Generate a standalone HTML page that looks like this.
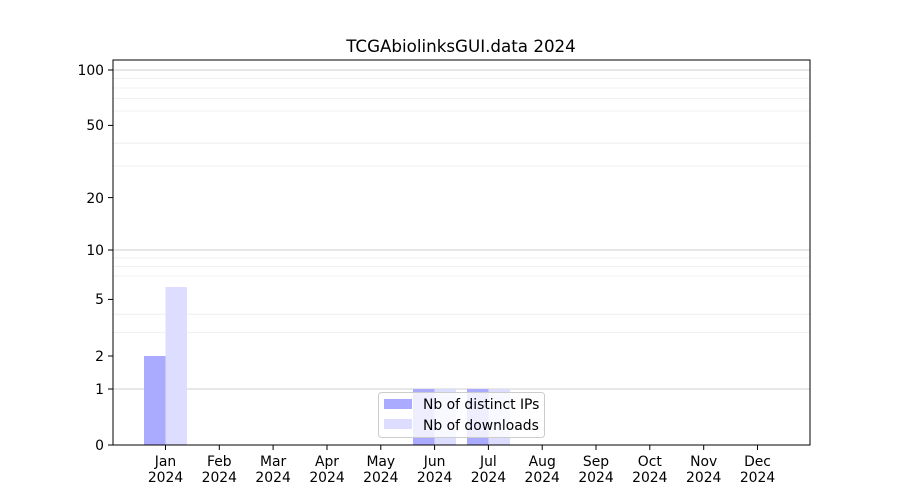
<!DOCTYPE html>
<html><head><meta charset="utf-8"><style>
html,body{margin:0;padding:0;background:#fff;}
svg{display:block;font-family:"DejaVu Sans","Liberation Sans",sans-serif;}
</style></head><body>
<svg width="900" height="500" viewBox="0 0 900 500" xmlns="http://www.w3.org/2000/svg">
<rect width="900" height="500" fill="#fff"/>
<g stroke="#ebebeb" stroke-width="0.8">
<line x1="113" x2="810" y1="332.4" y2="332.4"/>
<line x1="113" x2="810" y1="314.2" y2="314.2"/>
<line x1="113" x2="810" y1="276" y2="276"/>
<line x1="113" x2="810" y1="266.5" y2="266.5"/>
<line x1="113" x2="810" y1="257.9" y2="257.9"/>
<line x1="113" x2="810" y1="166" y2="166"/>
<line x1="113" x2="810" y1="143.2" y2="143.2"/>
<line x1="113" x2="810" y1="111" y2="111"/>
<line x1="113" x2="810" y1="98.6" y2="98.6"/>
<line x1="113" x2="810" y1="88" y2="88"/>
<line x1="113" x2="810" y1="78.4" y2="78.4"/>
</g>
<g stroke="#cfcfcf" stroke-width="1">
<line x1="113" x2="810" y1="389" y2="389"/>
<line x1="113" x2="810" y1="250" y2="250"/>
<line x1="113" x2="810" y1="70" y2="70"/>
</g>
<g>
<rect x="144" y="356" width="21.5" height="89" fill="#aaaaff"/>
<rect x="165.5" y="287" width="21.5" height="158" fill="#ddddff"/>
<rect x="413" y="389" width="21.5" height="56" fill="#aaaaff"/>
<rect x="434.5" y="389" width="21.5" height="56" fill="#ddddff"/>
<rect x="467" y="389" width="21.5" height="56" fill="#aaaaff"/>
<rect x="488.5" y="389" width="21.5" height="56" fill="#ddddff"/>
</g>
<rect x="113" y="60" width="697" height="385" fill="none" stroke="#000" stroke-width="1"/>
<g stroke="#000" stroke-width="1">
<line x1="108" x2="113" y1="445" y2="445"/>
<line x1="108" x2="113" y1="389" y2="389"/>
<line x1="108" x2="113" y1="356" y2="356"/>
<line x1="108" x2="113" y1="299.4" y2="299.4"/>
<line x1="108" x2="113" y1="250" y2="250"/>
<line x1="108" x2="113" y1="197.6" y2="197.6"/>
<line x1="108" x2="113" y1="125.4" y2="125.4"/>
<line x1="108" x2="113" y1="70" y2="70"/>
</g>
<g font-size="13.9" text-anchor="end" fill="#000">
<text x="104" y="450">0</text>
<text x="104" y="394">1</text>
<text x="104" y="361">2</text>
<text x="104" y="304">5</text>
<text x="104" y="255">10</text>
<text x="104" y="203">20</text>
<text x="104" y="130">50</text>
<text x="104" y="75">100</text>
</g>
<g font-size="13.9" text-anchor="middle" fill="#000" id="xt">
<g transform="translate(165.5,0)"><line x1="0" x2="0" y1="445" y2="450" stroke="#000"/><text y="466">Jan</text><text y="482">2024</text></g>
<g transform="translate(219.3,0)"><line x1="0" x2="0" y1="445" y2="450" stroke="#000"/><text y="466">Feb</text><text y="482">2024</text></g>
<g transform="translate(273.1,0)"><line x1="0" x2="0" y1="445" y2="450" stroke="#000"/><text y="466">Mar</text><text y="482">2024</text></g>
<g transform="translate(327,0)"><line x1="0" x2="0" y1="445" y2="450" stroke="#000"/><text y="466">Apr</text><text y="482">2024</text></g>
<g transform="translate(380.8,0)"><line x1="0" x2="0" y1="445" y2="450" stroke="#000"/><text y="466">May</text><text y="482">2024</text></g>
<g transform="translate(434.6,0)"><line x1="0" x2="0" y1="445" y2="450" stroke="#000"/><text y="466">Jun</text><text y="482">2024</text></g>
<g transform="translate(488.4,0)"><line x1="0" x2="0" y1="445" y2="450" stroke="#000"/><text y="466">Jul</text><text y="482">2024</text></g>
<g transform="translate(542.2,0)"><line x1="0" x2="0" y1="445" y2="450" stroke="#000"/><text y="466">Aug</text><text y="482">2024</text></g>
<g transform="translate(596,0)"><line x1="0" x2="0" y1="445" y2="450" stroke="#000"/><text y="466">Sep</text><text y="482">2024</text></g>
<g transform="translate(649.8,0)"><line x1="0" x2="0" y1="445" y2="450" stroke="#000"/><text y="466">Oct</text><text y="482">2024</text></g>
<g transform="translate(703.7,0)"><line x1="0" x2="0" y1="445" y2="450" stroke="#000"/><text y="466">Nov</text><text y="482">2024</text></g>
<g transform="translate(757.5,0)"><line x1="0" x2="0" y1="445" y2="450" stroke="#000"/><text y="466">Dec</text><text y="482">2024</text></g>
</g>
<text x="461" y="52" font-size="16.7" text-anchor="middle" fill="#000">TCGAbiolinksGUI.data 2024</text>
<rect x="378.5" y="392.5" width="166" height="45" rx="3" fill="#fff" fill-opacity="0.8" stroke="#cccccc" stroke-width="1"/>
<rect x="384" y="399" width="28" height="10" fill="#aaaaff"/>
<rect x="384" y="419" width="28" height="10" fill="#ddddff"/>
<g font-size="13.9" fill="#000">
<text x="423" y="409">Nb of distinct IPs</text>
<text x="423" y="430">Nb of downloads</text>
</g>
</svg>
</body></html>
